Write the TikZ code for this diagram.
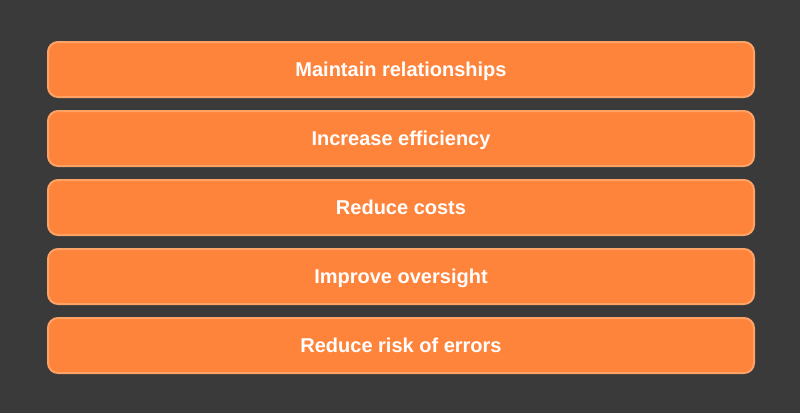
\documentclass[tikz,border=0pt]{standalone}
\usepackage{fontspec}
\setmainfont{Liberation Sans}
\definecolor{bg}{HTML}{3A3A3A}
\definecolor{boxfill}{HTML}{FF843B}
\definecolor{boxline}{HTML}{FFA266}
\begin{document}
\begin{tikzpicture}[x=1pt,y=-1pt,
  itembox/.style={draw=boxline, fill=boxfill, line width=2pt, rounded corners=10pt,
    minimum width=706pt, minimum height=55pt, inner sep=0pt, anchor=north west,
    text height=14.3pt, text depth=0pt,
    text=white, font=\fontsize{20}{24}\selectfont\bfseries}]
\fill[bg] (0,0) rectangle (800,413);
\useasboundingbox (0,0) rectangle (800,413);
\node[itembox] (b1) at (47,41) {Maintain relationships};
\node[itembox] (b2) at (47,110) {Increase efficiency};
\node[itembox] (b3) at (47,179) {Reduce costs};
\node[itembox] (b4) at (47,248) {Improve oversight};
\node[itembox] (b5) at (47,317) {Reduce risk of errors};
\end{tikzpicture}
\end{document}
